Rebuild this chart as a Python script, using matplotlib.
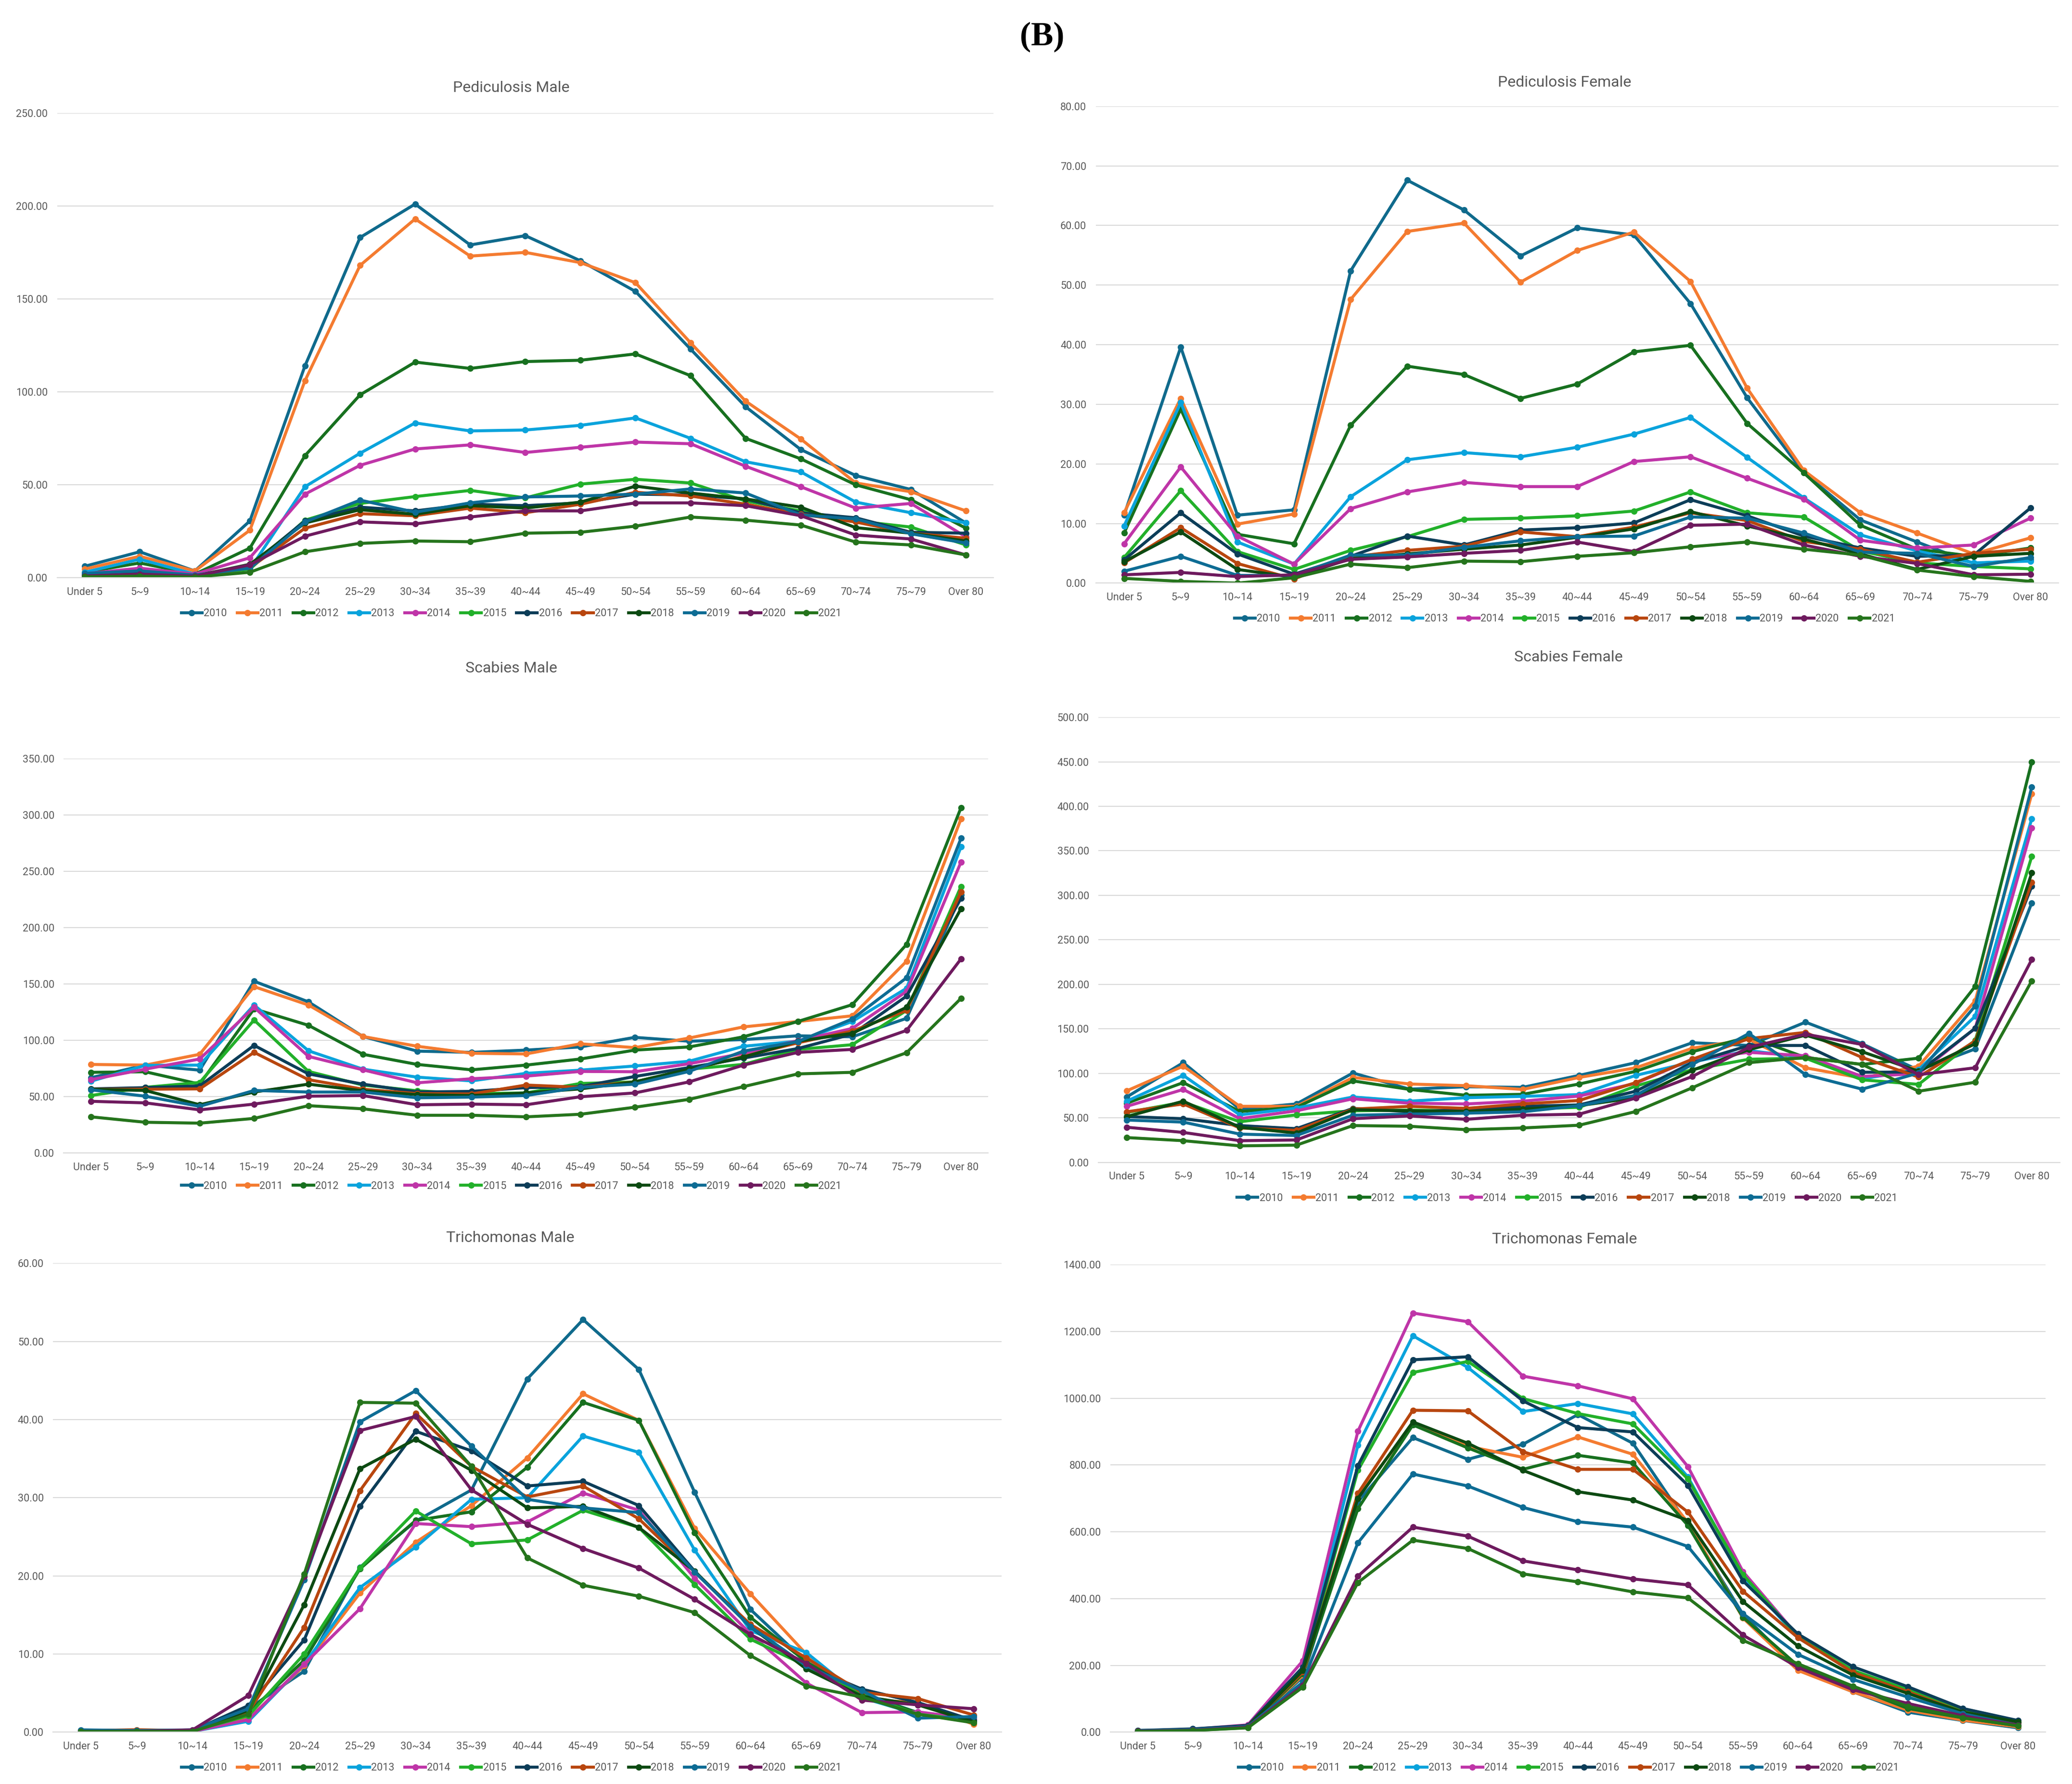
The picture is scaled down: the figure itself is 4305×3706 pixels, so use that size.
import matplotlib.pyplot as plt
from matplotlib.ticker import MultipleLocator, FormatStrFormatter

# categories and series
age_groups = ['Under 5', '5~9', '10~14', '15~19', '20~24', '25~29', '30~34', '35~39',
              '40~44', '45~49', '50~54', '55~59', '60~64', '65~69', '70~74', '75~79', 'Over 80']
years = ['2010', '2011', '2012', '2013', '2014', '2015', '2016', '2017', '2018', '2019', '2020', '2021']
colors = ['#0F6A8C', '#F47B30', '#17701F', '#0AA3DC', '#BF35A8', '#22B02A',
          '#0C3D58', '#B8460E', '#0C4A12', '#0D6C94', '#6E1A5E', '#25741C']

# one row per year (2010 ... 2021)
ped_male = [
    [6.2, 14, 3.7, 30.6, 114, 183, 201, 179, 184, 170.5, 154, 123, 92, 69, 55, 47.5, 29.5],
    [4.7, 11.6, 3.7, 25.6, 106, 168, 193, 173, 175, 169.5, 158.7, 126.4, 95, 74.7, 51, 46.3, 36],
    [3, 8, 2, 16, 65.7, 98.4, 116, 112.6, 116.3, 117, 120.4, 108.7, 75, 64, 50, 42, 26.7],
    [3, 10, 2, 4.7, 49, 67, 83.3, 79, 79.5, 82, 86, 75, 62.4, 57, 40.7, 35, 29.5],
    [2.2, 5.2, 2, 10.8, 45, 60.5, 69.3, 71.5, 67.4, 70.2, 73, 72.1, 60, 49, 37.5, 40, 22],
    [2, 3.7, 1, 4.7, 31, 40, 43.7, 47, 43, 50.4, 53, 51, 41.3, 36, 30.6, 27.3, 17.7],
    [1.3, 2.6, 1, 6.5, 30.6, 38, 36, 39.6, 38.8, 40.3, 45, 44.6, 42.4, 35, 32.3, 24.5, 24],
    [1.7, 3, 1, 5.4, 26.7, 34.5, 33.4, 37.5, 35, 39.6, 46, 44, 39.6, 34.2, 30, 24, 21.3],
    [1.5, 2.6, 1, 7.3, 29.5, 36.6, 34.2, 38.8, 37.5, 40.7, 49.3, 45.6, 42.4, 38, 27, 24, 19.8],
    [2.4, 3.7, 1.5, 5.2, 30, 41.8, 35.3, 40.3, 43.5, 44, 45, 47.8, 45.6, 33.8, 31.7, 23.7, 18.7],
    [1, 2, 0.9, 7, 22.4, 30.1, 29, 32.7, 36, 36, 40.3, 40.3, 38.8, 33.4, 23, 20.9, 12.3],
    [0.6, 0.9, 0.4, 3, 14, 18.5, 19.8, 19.4, 24, 24.5, 27.8, 32.7, 31, 28.4, 19.2, 17.7, 12.3],
]

ped_female = [
    [11.4, 39.6, 11.4, 12.3, 52.4, 67.6, 62.6, 54.9, 59.6, 58.4, 46.9, 31.1, 18.5, 10.6, 6.9, 3.3, 3.9],
    [11.8, 31, 9.9, 11.6, 47.6, 59, 60.4, 50.5, 55.8, 58.9, 50.6, 32.7, 18.9, 11.8, 8.4, 4.9, 7.6],
    [8.4, 29.2, 8.2, 6.6, 26.5, 36.4, 35, 31, 33.4, 38.8, 39.9, 26.8, 18.5, 9.7, 5.7, 4.5, 5.9],
    [9.6, 30.3, 6.9, 3.2, 14.5, 20.7, 21.9, 21.2, 22.8, 25, 27.8, 21.1, 14.3, 8.1, 5.4, 3.4, 3.7],
    [6.6, 19.5, 7.9, 3.2, 12.5, 15.3, 16.9, 16.2, 16.2, 20.4, 21.2, 17.6, 14.1, 7.2, 5.9, 6.4, 10.9],
    [4.3, 15.5, 5.3, 2.3, 5.5, 7.8, 10.7, 10.9, 11.3, 12.1, 15.3, 11.8, 11.1, 5.4, 3.4, 2.8, 2.4],
    [3.9, 11.8, 4.9, 1.5, 4.5, 7.9, 6.4, 8.9, 9.3, 10.1, 14, 11.3, 7.9, 5.9, 4.5, 4.7, 12.6],
    [3.4, 9.3, 3.3, 0.7, 4.4, 5.5, 6.2, 8.6, 7.8, 9.4, 11.8, 10.5, 7.0, 5.7, 3.5, 5.0, 5.7],
    [3.6, 8.6, 2.3, 1.0, 4.1, 4.9, 5.7, 6.4, 7.7, 9.1, 12, 9.6, 7.4, 4.9, 2.3, 4.5, 5.0],
    [2.0, 4.5, 1.3, 1.3, 4.7, 4.7, 6.0, 7.1, 7.8, 7.9, 11.1, 10.9, 8.4, 5.2, 5.0, 2.8, 4.3],
    [1.4, 1.8, 1.1, 1.4, 4.0, 4.4, 5.0, 5.5, 6.9, 5.3, 9.7, 9.9, 6.4, 4.5, 3.3, 1.4, 1.5],
    [0.8, 0.3, 0.0, 0.9, 3.2, 2.6, 3.7, 3.6, 4.5, 5.1, 6.1, 6.9, 5.7, 4.7, 2.2, 1.1, 0.3],
]

sca_male = [
    [66.8, 78, 73.5, 152.4, 134.1, 103.4, 90.4, 89.3, 91.3, 94.1, 102.6, 99.2, 100.6, 104, 103.1, 119.5, 229],
    [78.6, 78, 87.6, 147.6, 131.3, 103.4, 94.7, 88.5, 87.9, 96.9, 93.5, 102, 111.9, 116.7, 121.7, 170.2, 296.4],
    [71.6, 72.1, 61.1, 127.9, 113.3, 87.6, 78.6, 73.8, 78, 83.4, 91.3, 94.1, 103.1, 116.7, 131.6, 185.1, 306.3],
    [63.7, 77.8, 78, 131.3, 90.7, 74.4, 67.3, 64, 70.7, 73.5, 77.2, 81.4, 94.7, 99.2, 116.7, 146.2, 271.6],
    [65.1, 74.4, 83.4, 129.3, 85.7, 73.8, 62.3, 65.9, 68.2, 72.4, 72.1, 79.2, 88.5, 99.7, 110.5, 143.4, 258.1],
    [51, 58.3, 62.6, 118, 72.4, 60.3, 55.2, 52.7, 53.3, 61.7, 63.1, 74.4, 78.6, 91.9, 96.1, 126.5, 236.4],
    [56.9, 58, 59.5, 95.5, 70.2, 61.1, 54.1, 54.7, 58, 58.9, 67.9, 75.8, 84.2, 92.7, 105.4, 139.2, 226],
    [56.6, 56.6, 56.9, 89.3, 65.1, 56.6, 52.7, 52.4, 60.3, 58.3, 63.1, 73.8, 85.7, 97.8, 108.2, 126.5, 231.6],
    [56.6, 55.5, 42.8, 54.1, 61.1, 55.2, 51.8, 51, 53.3, 56.9, 63.1, 74.4, 85.1, 99.2, 106.2, 129.3, 216.7],
    [56.1, 50.4, 41.4, 55.5, 54.1, 54.1, 49, 49.6, 51, 58.3, 61.1, 72.4, 90.4, 98.9, 118.9, 155.5, 279.2],
    [45.9, 44.5, 38.3, 43.4, 50.4, 51, 42.8, 43.4, 42.8, 49.9, 53.3, 63.1, 78, 89.3, 91.9, 108.8, 172.2],
    [32.1, 27.3, 26.5, 30.7, 42, 39.2, 33.5, 33.5, 32.1, 34.4, 40.6, 47.6, 58.9, 70.2, 71.6, 89, 137.2],
]

sca_female = [
    [73.4, 112, 59.8, 65.6, 100.4, 82.2, 84.9, 84.2, 97.7, 112, 134.4, 131.3, 157.5, 133.2, 103.5, 127.4, 291.5],
    [80.3, 108.1, 62.9, 62.9, 95.4, 88, 86.1, 81.9, 95.4, 106.2, 128.2, 138.2, 106.2, 94.6, 108.1, 181.5, 413.9],
    [66.4, 89.6, 57.1, 61.8, 91.5, 81.9, 75.3, 76.4, 88, 102.3, 124.3, 140.9, 117.8, 110, 117, 197.7, 449.8],
    [68.7, 97.7, 53.3, 61, 73.4, 68.7, 72.6, 74.1, 76.1, 97.7, 112.7, 125.5, 117.8, 93.8, 104.2, 164.1, 386.1],
    [62.9, 81.9, 49, 57.9, 71.4, 66.4, 65.6, 68.7, 74.5, 88.8, 115.8, 123.6, 119.7, 96.5, 99.6, 150.6, 375.7],
    [56, 67.6, 45.6, 53.3, 57.9, 58.7, 57.9, 59.8, 61.8, 85.7, 104.2, 115.8, 117, 92.7, 87.6, 137.1, 343.6],
    [51.4, 49, 41.3, 37.8, 60.6, 56.8, 59.1, 62.9, 64.5, 79.9, 112, 131.3, 131.3, 101.2, 101.5, 150.6, 310],
    [56.8, 65.6, 38.6, 35.9, 59.8, 62.9, 60.6, 65.6, 69.5, 89.6, 115.8, 139, 146, 117.8, 95.8, 136.3, 314.7],
    [51.4, 68.7, 39.4, 32.8, 59.1, 57.9, 57.1, 59.8, 63.7, 72.6, 103.5, 126.6, 142.9, 124.3, 102.3, 133.2, 325.1],
    [47.5, 45.2, 31.7, 30.1, 52.9, 54.1, 55.2, 56.8, 63.7, 75.3, 110, 144.8, 98.5, 82.2, 100.4, 175.7, 421.6],
    [39.4, 33.6, 24.3, 25.1, 49, 52.1, 48.3, 52.9, 54.1, 72.2, 96.5, 129.3, 144, 132.4, 98.5, 106.2, 227.8],
    [27.8, 24.3, 18.5, 19.3, 41.3, 40.5, 36.7, 38.6, 41.7, 57.1, 83.8, 112, 117.8, 110, 79.9, 90, 203.9],
]

tri_male = [
    [0.2, 0.2, 0.2, 3.0, 7.8, 21.1, 27.0, 31.0, 45.2, 52.8, 46.4, 30.7, 15.7, 9.0, 5.0, 2.5, 1.3],
    [0.2, 0.3, 0.2, 1.7, 8.5, 17.8, 24.3, 29.0, 35.1, 43.3, 39.9, 26.1, 17.7, 10.0, 4.2, 3.8, 1.0],
    [0.2, 0.2, 0.1, 2.5, 9.2, 20.9, 27.1, 28.2, 33.9, 42.2, 39.9, 25.5, 14.7, 9.0, 4.8, 2.5, 1.5],
    [0.1, 0.2, 0.1, 1.4, 8.7, 18.5, 23.7, 29.8, 30.0, 37.9, 35.8, 23.3, 13.0, 10.2, 4.4, 2.3, 1.8],
    [0.1, 0.1, 0.1, 1.6, 8.7, 15.8, 26.7, 26.3, 26.9, 30.6, 28.4, 19.7, 12.6, 6.3, 2.5, 2.6, 1.7],
    [0.2, 0.2, 0.2, 2.1, 10.0, 21.0, 28.3, 24.1, 24.6, 28.4, 26.2, 18.9, 11.9, 8.5, 4.8, 2.3, 1.5],
    [0.2, 0.2, 0.2, 3.4, 11.8, 28.9, 38.5, 36.0, 31.5, 32.1, 29.0, 20.6, 13.5, 8.5, 5.5, 3.8, 1.5],
    [0.2, 0.3, 0.2, 2.6, 13.4, 30.9, 40.8, 34.0, 30.1, 31.5, 27.3, 20.5, 13.8, 9.5, 5.1, 4.3, 2.2],
    [0.1, 0.1, 0.1, 2.8, 16.3, 33.7, 37.5, 33.5, 28.7, 28.9, 26.2, 20.6, 13.5, 8.1, 4.6, 3.5, 1.3],
    [0.3, 0.2, 0.3, 3.0, 19.5, 39.7, 43.7, 36.6, 29.8, 28.7, 28.1, 20.5, 13.5, 8.5, 5.3, 1.8, 2.0],
    [0.1, 0.1, 0.3, 4.7, 19.9, 38.6, 40.4, 31.0, 26.6, 23.5, 21.0, 17.0, 12.5, 8.8, 4.1, 3.5, 3.0],
    [0.1, 0.1, 0.1, 2.3, 20.2, 42.2, 42.1, 34.0, 22.3, 18.8, 17.4, 15.3, 9.8, 5.9, 4.5, 2.3, 1.2],
]

tri_female = [
    [5, 8, 18, 165, 690, 882, 817, 862, 951, 865, 622, 353, 188, 121, 60, 35, 13],
    [3, 6, 15, 170, 706, 923, 856, 823, 884, 832, 628, 342, 185, 121, 66, 36, 16],
    [2, 5, 14, 175, 669, 920, 851, 787, 829, 806, 619, 344, 199, 135, 71, 43, 19],
    [4, 9, 20, 190, 859, 1187, 1092, 960, 984, 953, 764, 467, 283, 183, 124, 63, 29],
    [4, 9, 22, 214, 901, 1255, 1229, 1066, 1037, 998, 795, 481, 288, 183, 125, 62, 27],
    [3, 8, 18, 185, 784, 1077, 1110, 999, 954, 923, 758, 472, 286, 185, 127, 66, 30],
    [5, 10, 20, 195, 798, 1115, 1124, 992, 912, 899, 739, 453, 294, 196, 136, 71, 35],
    [3, 7, 17, 180, 715, 964, 962, 840, 787, 787, 659, 422, 283, 179, 121, 60, 29],
    [3, 7, 16, 185, 700, 929, 865, 784, 720, 695, 634, 391, 258, 171, 116, 60, 31],
    [4, 8, 17, 150, 567, 773, 737, 673, 630, 614, 556, 355, 233, 158, 105, 55, 21],
    [3, 6, 15, 140, 467, 614, 587, 513, 486, 459, 441, 291, 194, 127, 86, 49, 21],
    [2, 5, 13, 135, 448, 575, 550, 474, 450, 420, 402, 275, 205, 138, 77, 43, 19],
]

plt.rcParams['font.family'] = ['Liberation Sans Narrow', 'Roboto', 'DejaVu Sans']

W, H = 1560.0, 1343.0  # reference layout grid
fig = plt.figure(figsize=(43.05, 37.06), dpi=100)

# (title, data, ymax, ystep, axes box l/r/t/b, title xy, legend xy)
panels = [
    ('Pediculosis Male', ped_male, 250, 50, (43, 748, 85, 435), (385, 66), (385, 462)),
    ('Pediculosis Female', ped_female, 80, 10, (825, 1550, 80, 439), (1178, 62), (1178, 466)),
    ('Scabies Male', sca_male, 350, 50, (48, 744, 571, 868), (385, 503), (385, 893)),
    ('Scabies Female', sca_female, 500, 50, (827, 1551, 540, 875), (1181, 495), (1180, 902)),
    ('Trichomonas Male', tri_male, 60, 10, (40, 754, 951, 1304), (384, 932), (385, 1331)),
    ('Trichomonas Female', tri_female, 1400, 200, (836, 1540, 952, 1304), (1178, 933), (1181, 1331)),
]

grey = '#595959'
for title, data, ymax, ystep, box, txy, lxy in panels:
    l, r, t, b = box
    ax = fig.add_axes([l / W, 1 - b / H, (r - l) / W, (b - t) / H])
    x = range(len(age_groups))
    for vals, yr, c in zip(data, years, colors):
        ax.plot(x, vals, color=c, lw=4.5, marker='o', markersize=8.5, label=yr)
    ax.set_xlim(-0.5, len(age_groups) - 0.5)
    ax.set_ylim(0, ymax)
    ax.yaxis.set_major_locator(MultipleLocator(ystep))
    ax.yaxis.set_major_formatter(FormatStrFormatter('%.2f'))
    ax.set_xticks(list(x))
    ax.set_xticklabels(age_groups)
    ax.grid(axis='y', color='#D9D9D9', lw=1.5)
    ax.set_axisbelow(True)
    for s in ['top', 'right', 'left']:
        ax.spines[s].set_visible(False)
    ax.spines['bottom'].set_color('#D9D9D9')
    ax.spines['bottom'].set_linewidth(1.5)
    ax.tick_params(length=0, labelsize=15.5, labelcolor=grey, pad=14)
    fig.text(txy[0] / W, 1 - txy[1] / H, title, fontsize=23, color=grey,
             ha='center', va='center')
    h, lab = ax.get_legend_handles_labels()
    fig.legend(h, lab, loc='center', bbox_to_anchor=(lxy[0] / W, 1 - lxy[1] / H),
               ncol=12, frameon=False, fontsize=15.5, handlelength=2.0,
               handletextpad=0.15, columnspacing=1.0, labelcolor=grey)

fig.text(0.503, 1 - 28 / H, '(B)', fontsize=50, fontweight='bold',
         family=['Liberation Serif', 'DejaVu Serif'], ha='center', va='center')

fig.savefig('out.png', dpi=100, facecolor='white')
